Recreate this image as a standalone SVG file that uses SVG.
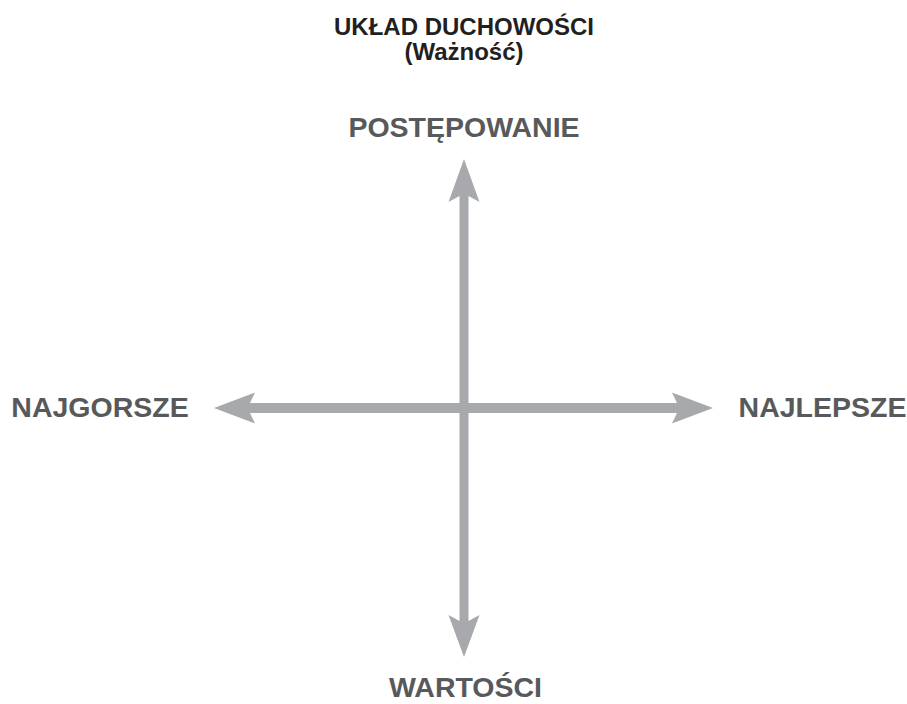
<svg xmlns="http://www.w3.org/2000/svg" width="907" height="704" viewBox="0 0 907 704">
<style>
.t{font-family:"Liberation Sans",Arial,sans-serif;font-weight:bold;text-anchor:middle}
.title{font-size:24px;fill:#231f20}
.lbl{font-size:28.5px;fill:#58595b}
.arr{fill:#a7a9ac;stroke:none}
</style>
<rect width="907" height="704" fill="#ffffff"/>
<g id="title">
<text class="t title" x="464" y="35">UKŁAD DUCHOWOŚCI</text>
<text class="t title" x="464" y="60">(Ważność)</text>
</g>
<g id="connectors">
<polygon class="arr" points="464,159 479.5,202 468.5,196 468.5,621 479.5,615 464,657 448.5,615 459.5,621 459.5,196 448.5,202"/>
<polygon class="arr" points="214,408 255,392.5 250,403 677,403 672,392.5 713,408 672,423.5 677,413 250,413 255,423.5"/>
</g>
<g id="postepowanie"><text class="t lbl" x="464" y="137">POSTĘPOWANIE</text></g>
<g id="najgorsze"><text class="t lbl" x="100" y="417">NAJGORSZE</text></g>
<g id="najlepsze"><text class="t lbl" x="822.5" y="417">NAJLEPSZE</text></g>
<g id="wartosci"><text class="t lbl" x="465.5" y="697">WARTOŚCI</text></g>
</svg>
